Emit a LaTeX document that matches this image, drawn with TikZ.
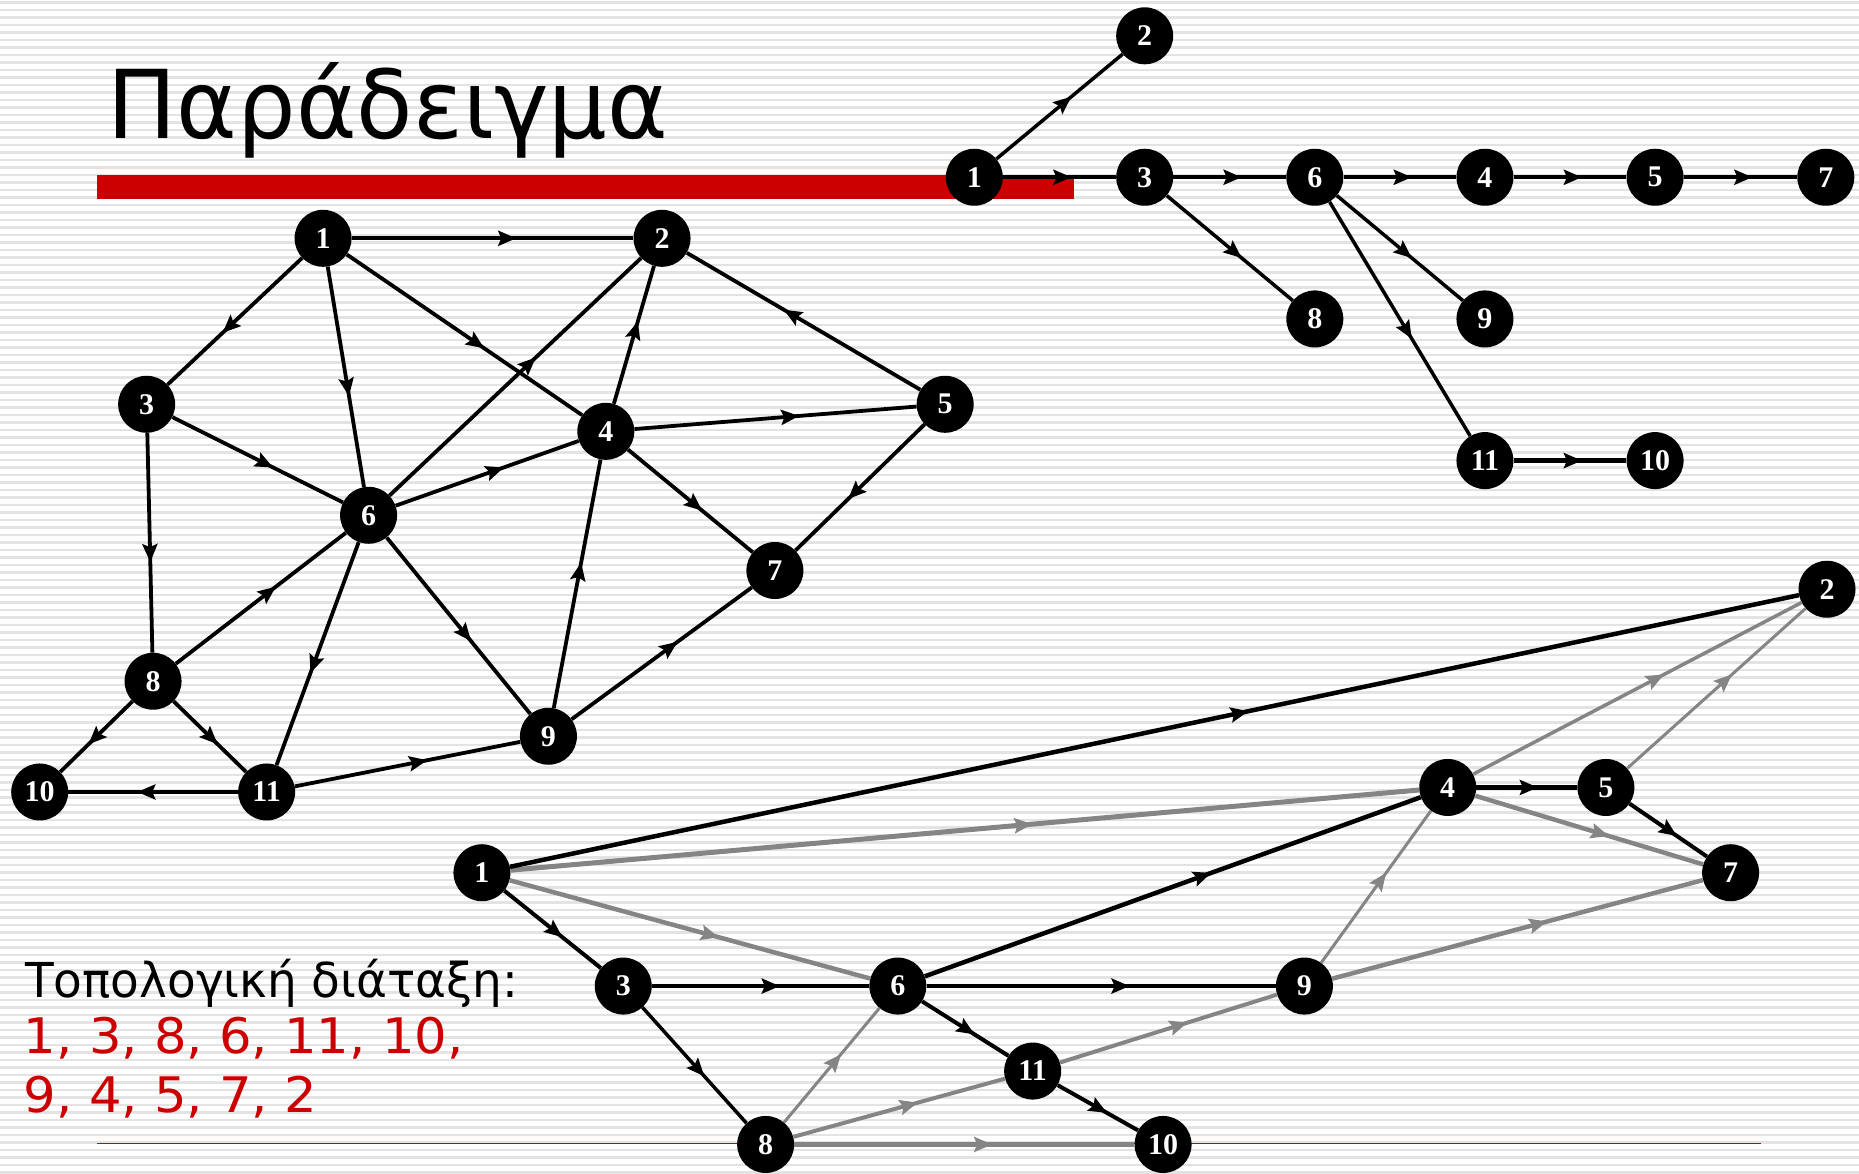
\documentclass[tikz,border=0pt]{standalone}
\usepackage{fontspec}
\newfontfamily\grfont{DejaVu Sans}
\newfontfamily\numfont{Liberation Serif}
\usetikzlibrary{arrows.meta,decorations.markings}
\definecolor{redbar}{HTML}{CC0000}
\definecolor{edgegray}{HTML}{858585}
\definecolor{stripegray}{HTML}{E3E3E3}
\begin{document}
\begin{tikzpicture}[x=1.1856pt,y=-1.1856pt,
  vtx/.style={circle,fill=black,minimum size=57pt,inner sep=0pt,text=white,
    font=\numfont\bfseries\fontsize{30}{30}\selectfont},
  marr/.style={postaction={decorate},decoration={markings,
    mark=at position 0.57 with {\arrow[xshift=4pt]{Stealth[length=18pt,width=15pt,inset=3pt]}}}},
  blk/.style={color=black,line width=#1,marr},
  blk/.default=3.8pt,
  gry/.style={color=edgegray,line width=#1,marr},
  gry/.default=4pt,
  stripe/.style={stripegray,line width=2.2pt},
  txt/.style={anchor=base west,inner sep=0pt,font=\grfont\fontsize{48}{48}\selectfont},
  ordtxt/.style={anchor=base west,inner sep=0pt,text=redbar,xscale=1.045,
    font=\grfont\fontsize{49}{49}\selectfont}
]
\useasboundingbox (0,0) rectangle (1568,989.4);
% background stripes
\foreach \i in {0,...,157}
  \draw[stripe] (0,{(2.5+\i*7.5)/1.1856}) -- (1568,{(2.5+\i*7.5)/1.1856});
% red bars
\fill[redbar] (82,148) rectangle (906,167.5);
\draw[redbar,line width=1.3pt] (82,964.7) -- (1485,964.7);
% title and text
\node[anchor=base west,inner sep=0pt,xscale=0.97,font=\grfont\fontsize{95}{95}\selectfont] (title) at (90.5,116.4) {Παράδειγμα};
\node[txt,xscale=0.978] (topo) at (21,841) {Τοπολογική διάταξη:};
\node[ordtxt] (ord1) at (20,889) {1, 3, 8, 6, 11, 10,};
\node[ordtxt] (ord2) at (20,938) {9, 4, 5, 7, 2};

% ---------- top-left graph ----------
\node[vtx] (a1) at (272.5,201) {1};
\node[vtx] (a2) at (558.4,201) {2};
\node[vtx] (a3) at (123.7,341) {3};
\node[vtx] (a4) at (511,363.8) {4};
\node[vtx] (a5) at (797.2,341) {5};
\node[vtx] (a6) at (310.9,434.6) {6};
\node[vtx] (a7) at (653.6,481.2) {7};
\node[vtx] (a8) at (129.1,574.6) {8};
\node[vtx] (a9) at (462.6,621) {9};
\node[vtx] (a10) at (33.5,668) {10};
\node[vtx] (a11) at (224.9,668) {11};
\draw[blk] (a1) -- (a2);
\draw[blk] (a1) -- (a3);
\draw[blk] (a1) -- (a6);
\draw[blk] (a1) -- (a4);
\draw[blk] (a5) -- (a2);
\draw[blk] (a4) -- (a2);
\draw[blk] (a6) -- (a2);
\draw[blk] (a3) -- (a6);
\draw[blk] (a3) -- (a8);
\draw[blk] (a4) -- (a5);
\draw[blk] (a5) -- (a7);
\draw[blk] (a4) -- (a7);
\draw[blk] (a6) -- (a4);
\draw[blk] (a8) -- (a6);
\draw[blk] (a6) -- (a11);
\draw[blk] (a6) -- (a9);
\draw[blk] (a9) -- (a4);
\draw[blk] (a9) -- (a7);
\draw[blk] (a8) -- (a10);
\draw[blk] (a8) -- (a11);
\draw[blk] (a11) -- (a10);
\draw[blk] (a11) -- (a9);

% ---------- top-right DFS forest ----------
\node[vtx] (b1) at (821.8,149.5) {1};
\node[vtx] (b2) at (965.5,30.2) {2};
\node[vtx] (b3) at (965.5,149.5) {3};
\node[vtx] (b6) at (1109,149.5) {6};
\node[vtx] (b4) at (1252.5,149.5) {4};
\node[vtx] (b5) at (1396,149.5) {5};
\node[vtx] (b7) at (1540,149.5) {7};
\node[vtx] (b8) at (1109,269) {8};
\node[vtx] (b9) at (1252.5,269) {9};
\node[vtx] (b11) at (1252.5,388.5) {11};
\node[vtx] (b10) at (1396,388.5) {10};
\draw[blk=3.5pt] (b1) -- (b2);
\draw[blk=4.5pt] (b1) -- (b3);
\draw[blk=4.5pt] (b3) -- (b6);
\draw[blk=4.5pt] (b6) -- (b4);
\draw[blk=4.5pt] (b4) -- (b5);
\draw[blk=4.5pt] (b5) -- (b7);
\draw[blk=3.5pt] (b3) -- (b8);
\draw[blk=3.5pt] (b6) -- (b9);
\draw[blk=3.5pt] (b6) -- (b11);
\draw[blk=4.5pt] (b11) -- (b10);

% ---------- bottom graph ----------
\node[vtx] (c1) at (406.5,736.1) {1};
\node[vtx] (c2) at (1541,497) {2};
\node[vtx] (c3) at (525.7,831.7) {3};
\node[vtx] (c4) at (1221.1,664.2) {4};
\node[vtx] (c5) at (1354.5,664.2) {5};
\node[vtx] (c6) at (757.3,831.7) {6};
\node[vtx] (c7) at (1459.7,736.1) {7};
\node[vtx] (c8) at (645.8,965.3) {8};
\node[vtx] (c9) at (1100.2,831.7) {9};
\node[vtx] (c10) at (981,965.3) {10};
\node[vtx] (c11) at (871,903.4) {11};
% gray (non-tree) edges
\draw[gry=5pt] (c1) -- (c4);
\draw[gry=4.5pt] (c1) -- (c6);
\draw[gry=3pt] (c8) -- (c6);
\draw[gry=4pt] (c8) -- (c11);
\draw[gry=5pt] (c8) -- (c10);
\draw[gry=4pt] (c11) -- (c9);
\draw[gry=3pt] (c9) -- (c4);
\draw[gry=4.5pt] (c9) -- (c7);
\draw[gry=4.5pt] (c4) -- (c7);
\draw[gry=3.5pt] (c4) -- (c2);
\draw[gry=3pt] (c5) -- (c2);
% black (tree) edges
\draw[blk=4.5pt] (c1) -- (c2);
\draw[blk=4pt] (c1) -- (c3);
\draw[blk=4.5pt] (c3) -- (c6);
\draw[blk=3.5pt] (c3) -- (c8);
\draw[blk=4.5pt] (c6) -- (c4);
\draw[blk=4.5pt] (c6) -- (c9);
\draw[blk=4pt] (c6) -- (c11);
\draw[blk=4pt] (c11) -- (c10);
\draw[blk=4.5pt] (c4) -- (c5);
\draw[blk=4pt] (c5) -- (c7);
\end{tikzpicture}
\end{document}
